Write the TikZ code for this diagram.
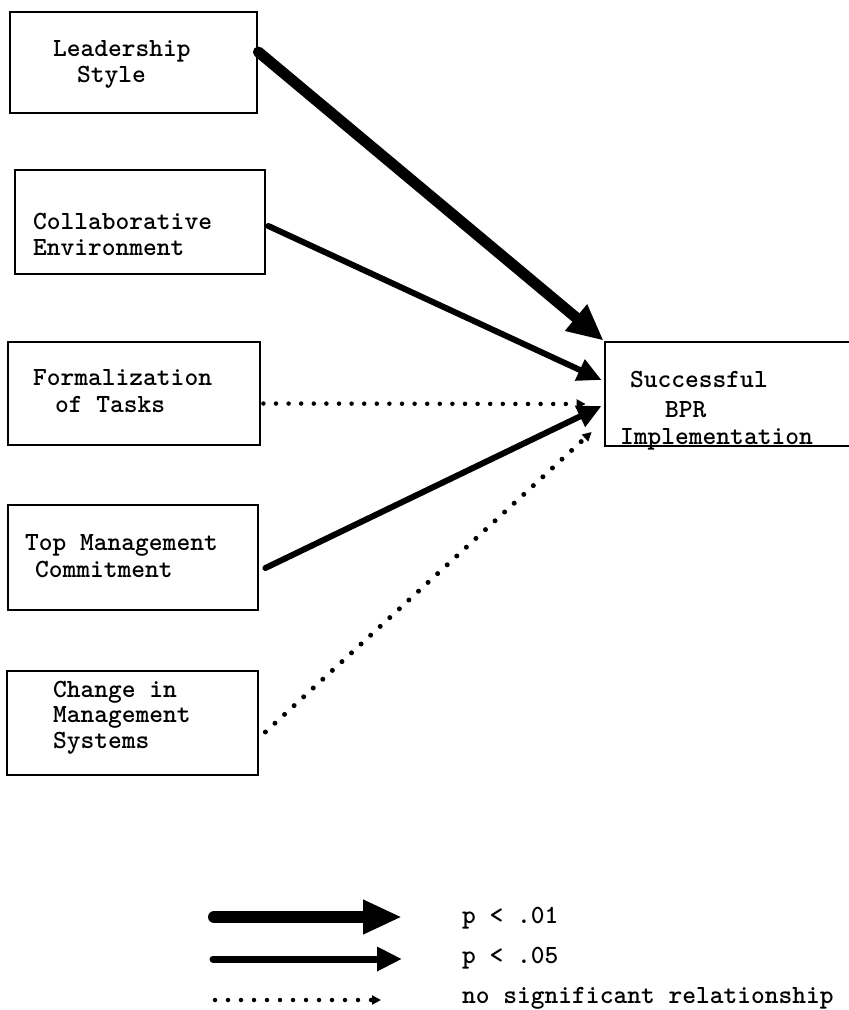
\documentclass[tikz,border=0pt]{standalone}
\usepackage{fontspec}
\usetikzlibrary{arrows.meta}
\begin{document}
\begin{tikzpicture}[x=1pt,y=-1pt,
  box/.style={draw=black, line width=2.8pt, inner sep=0pt},
  lbl/.style={anchor=base west, inner sep=0pt, font=\ttfamily\bfseries\fontsize{26.2}{28}\selectfont},
  strong/.style={line width=11pt, line cap=round, -{Triangle[length=36pt,width=32pt]}},
  medium/.style={line width=6pt, line cap=round, -{Triangle[length=24pt,width=22pt]}},
  nosig/.style={line width=4.5pt, line cap=round, dash pattern=on 0pt off 12.6pt, -{Triangle[length=9pt,width=9pt]}}]
\useasboundingbox (0,0) rectangle (849,1010);
\begin{scope}
\clip (0,0) rectangle (849,1010);
% boxes
\node[box, minimum width=247pt, minimum height=101pt] (lead) at (133.5,62.5) {};
\node[box, minimum width=250pt, minimum height=104pt] (collab) at (140,222) {};
\node[box, minimum width=252pt, minimum height=103pt] (form) at (134,393.5) {};
\node[box, minimum width=250pt, minimum height=105pt] (top) at (133,557.5) {};
\node[box, minimum width=251pt, minimum height=104pt] (chg) at (132.5,723) {};
\node[box, minimum width=265pt, minimum height=104pt] (bpr) at (737.5,394) {};
% texts
\node[lbl] (t1a) at (53,56) {Leadership};
\node[lbl] (t1b) at (77,82) {Style};
\node[lbl] (t2a) at (33,229) {Collaborative};
\node[lbl] (t2b) at (33,255) {Environment};
\node[lbl] (t3a) at (33,385) {Formalization};
\node[lbl] (t3b) at (55,412) {of Tasks};
\node[lbl] (t4a) at (25,550) {Top Management};
\node[lbl] (t4b) at (35,577) {Commitment};
\node[lbl] (t5a) at (53,697) {Change in};
\node[lbl] (t5b) at (53,722) {Management};
\node[lbl] (t5c) at (53,748) {Systems};
\node[lbl] (t6a) at (630,387) {Successful};
\node[lbl] (t6b) at (665,417) {BPR};
\node[lbl] (t6c) at (620,444) {Implementation};
% connectors
\draw[strong] ([yshift=10.5pt]lead.east) -- (bpr.north west);
\draw[medium] ([xshift=2pt,yshift=-4pt]collab.east) -- ([xshift=-2pt,yshift=14pt]bpr.west);
\draw[nosig] ([xshift=2pt,yshift=-10pt]form.east) -- ([xshift=-18pt,yshift=-10pt]bpr.west);
\draw[medium] ([xshift=6pt,yshift=-10.5pt]top.east) -- ([xshift=-2pt,yshift=-12pt]bpr.west);
\draw[nosig, line width=5pt, dash pattern=on 0pt off 13pt] ([xshift=6pt,yshift=-9pt]chg.east) -- ([xshift=-12pt,yshift=-38pt]bpr.west);
% legend
\coordinate (l1s) at (214,917);
\coordinate (l1e) at (402,917);
\coordinate (l2s) at (213,959);
\coordinate (l2e) at (402,959);
\coordinate (l3s) at (215,1000);
\coordinate (l3e) at (381,1000);
\draw[strong, line width=12pt, -{Triangle[length=39pt,width=32pt]}] (l1s) -- (l1e);
\draw[medium, line width=7pt, -{Triangle[length=25pt,width=23pt]}] (l2s) -- (l2e);
\draw[nosig, line width=4.5pt, dash pattern=on 0pt off 13pt] (l3s) -- (l3e);
\node[lbl] (k1) at (462,923) {p < .01};
\node[lbl] (k2) at (462,963) {p < .05};
\node[lbl] (k3) at (462,1003) {no significant relationship};
\end{scope}
\end{tikzpicture}
\end{document}
